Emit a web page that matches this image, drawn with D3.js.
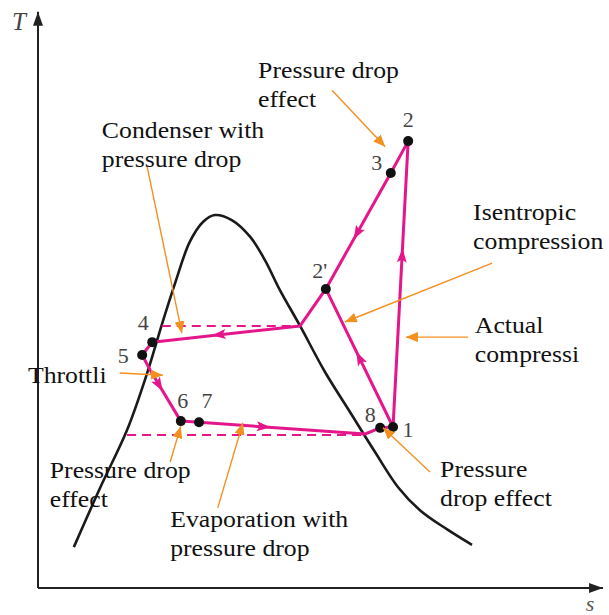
<!DOCTYPE html>
<html>
<head>
<meta charset="utf-8">
<script src="https://cdn.jsdelivr.net/npm/d3@7"></script>
<style>
  body { margin: 0; background: #fff; }
  #chart { width: 609px; height: 615px; }
  text { font-family: "Liberation Serif", "Times New Roman", "DejaVu Serif", serif; }
</style>
</head>
<body>
<div id="chart"></div>
<script>
// saturation dome (s, T), left to right
const domeS = [0.64, 1.11, 1.59, 1.95, 2.21, 2.45, 2.71, 2.95, 3.16, 3.46, 3.79, 4.05, 4.32, 4.68, 5.125, 5.571, 6.018, 6.43, 6.82, 7.30, 7.75];
const domeT = [0.73, 1.79, 2.82, 3.84, 4.70, 5.45, 6.18, 6.54, 6.66, 6.57, 6.27, 5.86, 5.32, 4.68, 3.857, 3.143, 2.429, 1.80, 1.39, 1.05, 0.77];

// state points
const stateNames = ["1", "2", "3", "2'", "4", "5", "6", "7", "8"];
const stateS = [6.34, 6.61, 6.30, 5.14, 2.04, 1.86, 2.55, 2.875, 6.11];
const stateT = [2.875, 7.98, 7.41, 5.34, 4.39, 4.16, 2.98, 2.96, 2.86];

// cycle path (includes corner points where it meets the dome)
const cycleS = [6.34, 6.61, 6.30, 5.14, 4.68, 2.04, 1.86, 2.02, 2.55, 2.875, 5.84, 6.11, 6.34];
const cycleT = [2.875, 7.98, 7.41, 5.34, 4.68, 4.39, 4.16, 3.86, 2.98, 2.96, 2.75, 2.86, 2.875];
// isentropic compression 1 -> 2'
const isoS = [6.34, 5.14];
const isoT = [2.875, 5.34];

// flow arrows: segment index in cycle path (or "iso"), fraction along it
const flowSeg = [0, 2, 4, 7, 9, "iso"];
const flowFrac = [0.60, 0.52, 0.55, 0.27, 0.39, 0.50];

// dashed saturation lines
const dashS0 = [2.21, 1.59];
const dashS1 = [4.68, 5.84];
const dashT = [4.68, 2.73];

// annotations
const noteLines = [
  ["Pressure drop", "effect"],
  ["Condenser with", "pressure drop"],
  ["Isentropic", "compression"],
  ["Actual", "compressi"],
  ["Throttli"],
  ["Pressure drop", "effect"],
  ["Pressure", "drop effect"],
  ["Evaporation with", "pressure drop"]
];
const noteS = [3.93, 1.14, 7.77, 7.80, -0.18, 0.21, 7.18, 2.36];
const noteT = [9.11, 8.04, 6.57, 4.55, 3.66, 1.96, 1.98, 1.09];

// leader arrows [fromS, fromT, toS, toT]
const leaders = [
  [5.25, 8.89, 6.20, 7.88],
  [1.95, 7.52, 2.57, 4.55],
  [8.11, 5.80, 5.48, 4.75],
  [7.68, 4.48, 6.57, 4.48],
  [1.46, 3.84, 2.23, 3.80],
  [2.36, 2.25, 2.55, 2.89],
  [3.21, 1.43, 3.66, 2.95],
  [7.00, 2.07, 6.16, 2.86]
];

// label offsets (px) for state names
const nameDx = [15, 0, -14, -6, -9, -19, 2, 8, -10];
const nameDy = [10, -14, -3, -11, -12, 8, -13, -14, -6];

const width = 609, height = 615;
const magenta = "#e5168c", orange = "#f39020", ink = "#222";
const serif = "Liberation Serif, Times New Roman, DejaVu Serif, serif";

const x = d3.scaleLinear().domain([0, 10]).range([38, 598]);
const y = d3.scaleLinear().domain([0, 10]).range([588, 28]);

const svg = d3.select("#chart")
    .append("svg")
    .attr("width", width)
    .attr("height", height);

const defs = svg.append("defs");
defs.append("marker")
    .attr("id", "orangeHead")
    .attr("markerUnits", "userSpaceOnUse")
    .attr("viewBox", "0 0 12 10")
    .attr("refX", 12).attr("refY", 5)
    .attr("markerWidth", 12).attr("markerHeight", 10)
    .attr("orient", "auto")
    .append("path").attr("d", "M0,0 L12,5 L0,10 Z").attr("fill", orange);
defs.append("marker")
    .attr("id", "axisHead")
    .attr("markerUnits", "userSpaceOnUse")
    .attr("viewBox", "0 0 14 10")
    .attr("refX", 14).attr("refY", 5)
    .attr("markerWidth", 14).attr("markerHeight", 10)
    .attr("orient", "auto")
    .append("path").attr("d", "M0,0 L14,5 L0,10 Z").attr("fill", ink);

const line = d3.line().x(d => x(d[0])).y(d => y(d[1]));

// axes
svg.append("path")
    .attr("d", line([[0, 0], [0, 10.29]]))
    .attr("stroke", ink).attr("stroke-width", 2).attr("fill", "none")
    .attr("marker-end", "url(#axisHead)");
svg.append("path")
    .attr("d", line([[0, 0], [10.09, 0]]))
    .attr("stroke", ink).attr("stroke-width", 2).attr("fill", "none")
    .attr("marker-end", "url(#axisHead)");

svg.append("text")
    .attr("x", 19).attr("y", 30)
    .attr("text-anchor", "middle")
    .attr("font-family", serif)
    .style("font-style", "italic")
    .style("font-size", "25px")
    .style("fill", "#444")
    .text("T");
svg.append("text")
    .attr("x", 590).attr("y", 611)
    .attr("text-anchor", "middle")
    .attr("font-family", serif)
    .style("font-style", "italic")
    .style("font-size", "22px")
    .style("fill", "#555")
    .text("s");

// dome
const domePts = domeS.map((s, i) => [s, domeT[i]]);
svg.append("path")
    .attr("d", d3.line().x(d => x(d[0])).y(d => y(d[1])).curve(d3.curveCatmullRom)(domePts))
    .attr("stroke", "#1a1a1a").attr("stroke-width", 2.6).attr("fill", "none");

// dashed lines
dashT.forEach((t, i) => {
    svg.append("path")
        .attr("d", line([[dashS0[i], t], [dashS1[i], t]]))
        .attr("stroke", magenta).attr("stroke-width", 2)
        .attr("stroke-dasharray", "9,6").attr("fill", "none");
});

// cycle
const cyclePts = cycleS.map((s, i) => [s, cycleT[i]]);
const isoPts = isoS.map((s, i) => [s, isoT[i]]);
svg.append("path")
    .attr("d", line(cyclePts))
    .attr("stroke", magenta).attr("stroke-width", 3).attr("stroke-linejoin", "round")
    .attr("fill", "none");
svg.append("path")
    .attr("d", line(isoPts))
    .attr("stroke", magenta).attr("stroke-width", 3)
    .attr("fill", "none");

// flow arrowheads
flowSeg.forEach((seg, i) => {
    const a = seg === "iso" ? isoPts[0] : cyclePts[seg];
    const b = seg === "iso" ? isoPts[1] : cyclePts[seg + 1];
    const f = flowFrac[i];
    const px = x(a[0]) + (x(b[0]) - x(a[0])) * f;
    const py = y(a[1]) + (y(b[1]) - y(a[1])) * f;
    const ang = Math.atan2(y(b[1]) - y(a[1]), x(b[0]) - x(a[0])) * 180 / Math.PI;
    svg.append("path")
        .attr("d", "M7,0 L-7,-5 L-4,0 L-7,5 Z")
        .attr("transform", `translate(${px},${py}) rotate(${ang})`)
        .attr("fill", magenta);
});

// state points and names
svg.selectAll(".pt")
    .data(stateNames)
    .enter().append("circle")
    .attr("class", "pt")
    .attr("cx", (d, i) => x(stateS[i]))
    .attr("cy", (d, i) => y(stateT[i]))
    .attr("r", 5)
    .attr("fill", "#111");

svg.selectAll(".pname")
    .data(stateNames)
    .enter().append("text")
    .attr("class", "pname")
    .attr("x", (d, i) => x(stateS[i]) + nameDx[i])
    .attr("y", (d, i) => y(stateT[i]) + nameDy[i])
    .attr("text-anchor", "middle")
    .attr("font-family", serif)
    .style("font-size", "22px")
    .style("fill", "#444")
    .text(d => d);

// leader arrows
leaders.forEach(l => {
    svg.append("path")
        .attr("d", line([[l[0], l[1]], [l[2], l[3]]]))
        .attr("stroke", orange).attr("stroke-width", 1.4).attr("fill", "none")
        .attr("marker-end", "url(#orangeHead)");
});

// annotation text
noteLines.forEach((lines, i) => {
    const g = svg.append("g")
        .attr("transform", `translate(${x(noteS[i])},${y(noteT[i])}) scale(1.12,1)`);
    const t = g.append("text")
        .attr("font-family", serif)
        .style("font-size", "23px")
        .style("fill", "#111");
    lines.forEach((s, j) => {
        t.append("tspan").attr("x", 0).attr("y", j * 29).text(s);
    });
});
</script>
</body>
</html>
